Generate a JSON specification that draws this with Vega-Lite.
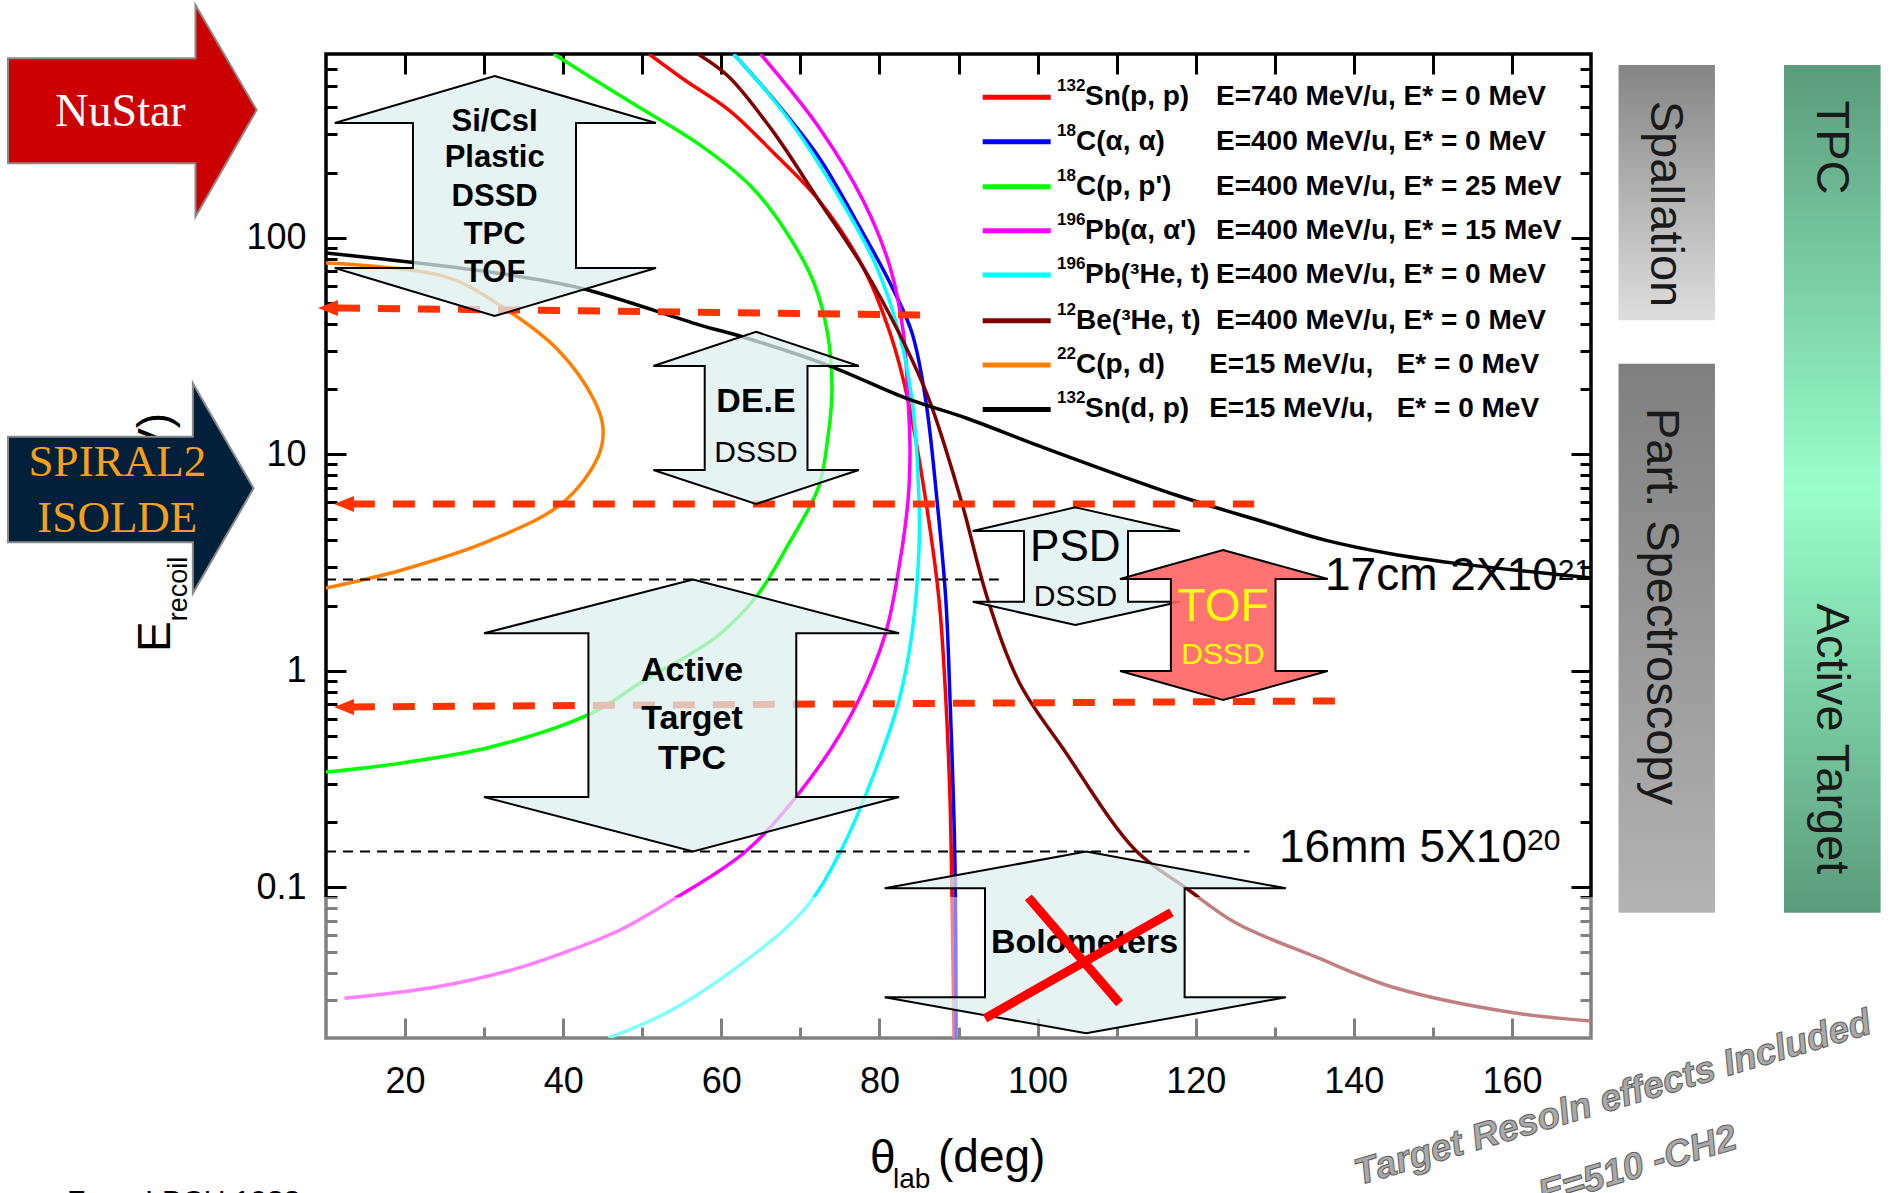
{
  "$schema": "https://vega.github.io/schema/vega-lite/v6.json",
  "width": 1265,
  "height": 984,
  "autosize": {"type": "none"},
  "padding": {"left": 326, "top": 54, "right": 302, "bottom": 155},
  "background": "white",
  "config": {"view": {"stroke": "black", "strokeWidth": 3.5}, "font": "Liberation Sans"},
  "datasets": {
    "curves": [
      {"s":"132Sn(p,p)","i":0,"theta":50.86,"E":706},{"s":"132Sn(p,p)","i":1,"theta":55.36,"E":535.6},{"s":"132Sn(p,p)","i":2,"theta":60.97,"E":389},{"s":"132Sn(p,p)","i":3,"theta":66.67,"E":245.5},{"s":"132Sn(p,p)","i":4,"theta":72.31,"E":149.4},{"s":"132Sn(p,p)","i":5,"theta":77.92,"E":73.2},{"s":"132Sn(p,p)","i":6,"theta":81.34,"E":36.3},{"s":"132Sn(p,p)","i":7,"theta":83.62,"E":17.8},{"s":"132Sn(p,p)","i":8,"theta":85.85,"E":6.14},{"s":"132Sn(p,p)","i":9,"theta":87.54,"E":2.12},{"s":"132Sn(p,p)","i":10,"theta":88.4,"E":0.732},{"s":"132Sn(p,p)","i":11,"theta":88.93,"E":0.253},{"s":"132Sn(p,p)","i":12,"theta":89.18,"E":0.0872},{"s":"132Sn(p,p)","i":13,"theta":89.43,"E":0.0201},
      {"s":"18C(α,α)","i":0,"theta":61.57,"E":706},{"s":"18C(α,α)","i":1,"theta":66.67,"E":433},{"s":"18C(α,α)","i":2,"theta":72.31,"E":236},{"s":"18C(α,α)","i":3,"theta":77.92,"E":105},{"s":"18C(α,α)","i":4,"theta":81.34,"E":61.8},{"s":"18C(α,α)","i":5,"theta":84.12,"E":36.3},{"s":"18C(α,α)","i":6,"theta":85.85,"E":17.8},{"s":"18C(α,α)","i":7,"theta":87.28,"E":6.14},{"s":"18C(α,α)","i":8,"theta":88.4,"E":2.12},{"s":"18C(α,α)","i":9,"theta":88.93,"E":0.732},{"s":"18C(α,α)","i":10,"theta":89.52,"E":0.148},{"s":"18C(α,α)","i":11,"theta":89.7,"E":0.0201},
      {"s":"18C(p,p')","i":0,"theta":38.79,"E":706},{"s":"18C(p,p')","i":1,"theta":48.3,"E":428},{"s":"18C(p,p')","i":2,"theta":57.2,"E":270},{"s":"18C(p,p')","i":3,"theta":63.83,"E":171.6},{"s":"18C(p,p')","i":4,"theta":68.3,"E":105.2},{"s":"18C(p,p')","i":5,"theta":71.72,"E":61.8},{"s":"18C(p,p')","i":6,"theta":73.43,"E":36.3},{"s":"18C(p,p')","i":7,"theta":74.0,"E":19.5},{"s":"18C(p,p')","i":8,"theta":73.43,"E":11.6},{"s":"18C(p,p')","i":9,"theta":72.3,"E":7.05},{"s":"18C(p,p')","i":10,"theta":68.3,"E":3.73},{"s":"18C(p,p')","i":11,"theta":64.39,"E":2.19},{"s":"18C(p,p')","i":12,"theta":59.33,"E":1.43},{"s":"18C(p,p')","i":13,"theta":49.72,"E":0.877},{"s":"18C(p,p')","i":14,"theta":43.9,"E":0.644},{"s":"18C(p,p')","i":15,"theta":30.87,"E":0.444},{"s":"18C(p,p')","i":16,"theta":19.6,"E":0.375},{"s":"18C(p,p')","i":17,"theta":10,"E":0.34},
      {"s":"196Pb(α,α')","i":0,"theta":64.96,"E":706},{"s":"196Pb(α,α')","i":1,"theta":72.31,"E":325},{"s":"196Pb(α,α')","i":2,"theta":77.92,"E":149},{"s":"196Pb(α,α')","i":3,"theta":81.34,"E":73.2},{"s":"196Pb(α,α')","i":4,"theta":83.03,"E":36.3},{"s":"196Pb(α,α')","i":5,"theta":83.62,"E":17.8},{"s":"196Pb(α,α')","i":6,"theta":83.87,"E":10.5},{"s":"196Pb(α,α')","i":7,"theta":83.62,"E":6.14},{"s":"196Pb(α,α')","i":8,"theta":82.48,"E":3.01},{"s":"196Pb(α,α')","i":9,"theta":80.77,"E":1.49},{"s":"196Pb(α,α')","i":10,"theta":77.39,"E":0.732},{"s":"196Pb(α,α')","i":11,"theta":72.31,"E":0.359},{"s":"196Pb(α,α')","i":12,"theta":63.25,"E":0.148},{"s":"196Pb(α,α')","i":13,"theta":54.4,"E":0.09},{"s":"196Pb(α,α')","i":14,"theta":47.19,"E":0.0634},{"s":"196Pb(α,α')","i":15,"theta":39.93,"E":0.0496},{"s":"196Pb(α,α')","i":16,"theta":33.4,"E":0.0414},{"s":"196Pb(α,α')","i":17,"theta":23.9,"E":0.0346},{"s":"196Pb(α,α')","i":18,"theta":12.33,"E":0.0307},
      {"s":"196Pb(3He,t)","i":0,"theta":61.57,"E":706},{"s":"196Pb(3He,t)","i":1,"theta":68.31,"E":361},{"s":"196Pb(3He,t)","i":2,"theta":75.14,"E":149},{"s":"196Pb(3He,t)","i":3,"theta":79.64,"E":73.2},{"s":"196Pb(3He,t)","i":4,"theta":82.48,"E":36.3},{"s":"196Pb(3He,t)","i":5,"theta":84.12,"E":17.8},{"s":"196Pb(3He,t)","i":6,"theta":85.0,"E":6.14},{"s":"196Pb(3He,t)","i":7,"theta":85.0,"E":3.61},{"s":"196Pb(3He,t)","i":8,"theta":84.12,"E":1.49},{"s":"196Pb(3He,t)","i":9,"theta":82.48,"E":0.732},{"s":"196Pb(3He,t)","i":10,"theta":79.64,"E":0.359},{"s":"196Pb(3He,t)","i":11,"theta":75.14,"E":0.148},{"s":"196Pb(3He,t)","i":12,"theta":70.43,"E":0.0784},{"s":"196Pb(3He,t)","i":13,"theta":60.97,"E":0.0401},{"s":"196Pb(3He,t)","i":14,"theta":53.0,"E":0.0262},{"s":"196Pb(3He,t)","i":15,"theta":45.73,"E":0.0201},
      {"s":"12Be(3He,t)","i":0,"theta":57.05,"E":706},{"s":"12Be(3He,t)","i":1,"theta":60.97,"E":553},{"s":"12Be(3He,t)","i":2,"theta":66.67,"E":305},{"s":"12Be(3He,t)","i":3,"theta":72.31,"E":149},{"s":"12Be(3He,t)","i":4,"theta":77.92,"E":73.2},{"s":"12Be(3He,t)","i":5,"theta":82.48,"E":36.3},{"s":"12Be(3He,t)","i":6,"theta":86.3,"E":17.8},{"s":"12Be(3He,t)","i":7,"theta":90.32,"E":6.14},{"s":"12Be(3He,t)","i":8,"theta":93.73,"E":2.12},{"s":"12Be(3He,t)","i":9,"theta":97.72,"E":0.877},{"s":"12Be(3He,t)","i":10,"theta":103.35,"E":0.43},{"s":"12Be(3He,t)","i":11,"theta":112.39,"E":0.148},{"s":"12Be(3He,t)","i":12,"theta":118.78,"E":0.0991},{"s":"12Be(3He,t)","i":13,"theta":125.1,"E":0.0683},{"s":"12Be(3He,t)","i":14,"theta":135.18,"E":0.0476},{"s":"12Be(3He,t)","i":15,"theta":145.3,"E":0.0342},{"s":"12Be(3He,t)","i":16,"theta":160.43,"E":0.0262},{"s":"12Be(3He,t)","i":17,"theta":170,"E":0.0241},
      {"s":"22C(p,d)","i":0,"theta":10,"E":76.4},{"s":"22C(p,d)","i":1,"theta":25.18,"E":65.9},{"s":"22C(p,d)","i":2,"theta":32.5,"E":47.4},{"s":"22C(p,d)","i":3,"theta":39.35,"E":30.3},{"s":"22C(p,d)","i":4,"theta":43.9,"E":17.8},{"s":"22C(p,d)","i":5,"theta":45.04,"E":13.2},{"s":"22C(p,d)","i":6,"theta":44.4,"E":9.7},{"s":"22C(p,d)","i":7,"theta":39.9,"E":5.95},{"s":"22C(p,d)","i":8,"theta":30.87,"E":4.01},{"s":"22C(p,d)","i":9,"theta":19.6,"E":2.92},{"s":"22C(p,d)","i":10,"theta":10,"E":2.41},
      {"s":"132Sn(d,p)","i":0,"theta":10,"E":85.0},{"s":"132Sn(d,p)","i":1,"theta":30.87,"E":69.3},{"s":"132Sn(d,p)","i":2,"theta":42.13,"E":58.6},{"s":"132Sn(d,p)","i":3,"theta":57.3,"E":39.5},{"s":"132Sn(d,p)","i":4,"theta":62.74,"E":34.8},{"s":"132Sn(d,p)","i":5,"theta":73.43,"E":25.8},{"s":"132Sn(d,p)","i":6,"theta":83.6,"E":18.0},{"s":"132Sn(d,p)","i":7,"theta":90.95,"E":14.7},{"s":"132Sn(d,p)","i":8,"theta":100.56,"E":10.8},{"s":"132Sn(d,p)","i":9,"theta":117.5,"E":6.48},{"s":"132Sn(d,p)","i":10,"theta":128.77,"E":4.85},{"s":"132Sn(d,p)","i":11,"theta":136.5,"E":4.0},{"s":"132Sn(d,p)","i":12,"theta":145.0,"E":3.45},{"s":"132Sn(d,p)","i":13,"theta":152.7,"E":3.14},{"s":"132Sn(d,p)","i":14,"theta":170,"E":2.68}
    ],
    "arrows": [
      {"id":"si","k":0,"theta":31.33,"E":558.8},{"id":"si","k":1,"theta":51.74,"E":338.8},{"id":"si","k":2,"theta":41.62,"E":338.8},{"id":"si","k":3,"theta":41.62,"E":72.5},{"id":"si","k":4,"theta":51.74,"E":72.5},{"id":"si","k":5,"theta":31.33,"E":43.5},{"id":"si","k":6,"theta":11.11,"E":72.5},{"id":"si","k":7,"theta":21.0,"E":72.5},{"id":"si","k":8,"theta":21.0,"E":338.8},{"id":"si","k":9,"theta":11.11,"E":338.8},
      {"id":"dee","k":0,"theta":64.39,"E":36.8},{"id":"dee","k":1,"theta":77.39,"E":25.56},{"id":"dee","k":2,"theta":70.9,"E":25.56},{"id":"dee","k":3,"theta":70.9,"E":8.46},{"id":"dee","k":4,"theta":77.39,"E":8.46},{"id":"dee","k":5,"theta":64.39,"E":5.89},{"id":"dee","k":6,"theta":51.41,"E":8.46},{"id":"dee","k":7,"theta":57.9,"E":8.46},{"id":"dee","k":8,"theta":57.9,"E":25.56},{"id":"dee","k":9,"theta":51.41,"E":25.56},
      {"id":"at","k":0,"theta":56.42,"E":2.64},{"id":"at","k":1,"theta":82.48,"E":1.488},{"id":"at","k":2,"theta":69.48,"E":1.488},{"id":"at","k":3,"theta":69.48,"E":0.261},{"id":"at","k":4,"theta":82.48,"E":0.261},{"id":"at","k":5,"theta":56.42,"E":0.146},{"id":"at","k":6,"theta":29.98,"E":0.261},{"id":"at","k":7,"theta":43.19,"E":0.261},{"id":"at","k":8,"theta":43.19,"E":1.488},{"id":"at","k":9,"theta":29.98,"E":1.488},
      {"id":"psd","k":0,"theta":104.78,"E":5.68},{"id":"psd","k":1,"theta":118.02,"E":4.42},{"id":"psd","k":2,"theta":111.44,"E":4.42},{"id":"psd","k":3,"theta":111.44,"E":2.08},{"id":"psd","k":4,"theta":118.02,"E":2.08},{"id":"psd","k":5,"theta":104.78,"E":1.625},{"id":"psd","k":6,"theta":91.79,"E":2.08},{"id":"psd","k":7,"theta":98.29,"E":2.08},{"id":"psd","k":8,"theta":98.29,"E":4.42},{"id":"psd","k":9,"theta":91.79,"E":4.42},
      {"id":"tof","k":0,"theta":123.46,"E":3.61},{"id":"tof","k":1,"theta":136.7,"E":2.65},{"id":"tof","k":2,"theta":130.1,"E":2.65},{"id":"tof","k":3,"theta":130.1,"E":0.997},{"id":"tof","k":4,"theta":136.7,"E":0.997},{"id":"tof","k":5,"theta":123.46,"E":0.732},{"id":"tof","k":6,"theta":110.43,"E":0.997},{"id":"tof","k":7,"theta":116.86,"E":0.997},{"id":"tof","k":8,"theta":116.86,"E":2.65},{"id":"tof","k":9,"theta":110.43,"E":2.65},
      {"id":"bolo","k":0,"theta":106.15,"E":0.146},{"id":"bolo","k":1,"theta":131.4,"E":0.0988},{"id":"bolo","k":2,"theta":118.6,"E":0.0988},{"id":"bolo","k":3,"theta":118.6,"E":0.03098},{"id":"bolo","k":4,"theta":131.4,"E":0.03098},{"id":"bolo","k":5,"theta":106.15,"E":0.02113},{"id":"bolo","k":6,"theta":80.66,"E":0.03098},{"id":"bolo","k":7,"theta":93.35,"E":0.03098},{"id":"bolo","k":8,"theta":93.35,"E":0.0988},{"id":"bolo","k":9,"theta":80.66,"E":0.0988},
      {"id":"nustar","k":0,"theta":-30.22,"E":674.5},{"id":"nustar","k":1,"theta":-6.51,"E":674.5},{"id":"nustar","k":2,"theta":-6.51,"E":1189},{"id":"nustar","k":3,"theta":1.23,"E":389},{"id":"nustar","k":4,"theta":-6.51,"E":125.1},{"id":"nustar","k":5,"theta":-6.51,"E":220.8},{"id":"nustar","k":6,"theta":-30.22,"E":220.8},
      {"id":"spiral","k":0,"theta":-30.22,"E":12.04},{"id":"spiral","k":1,"theta":-6.84,"E":12.04},{"id":"spiral","k":2,"theta":-6.84,"E":21.27},{"id":"spiral","k":3,"theta":0.84,"E":6.96},{"id":"spiral","k":4,"theta":-6.84,"E":2.278},{"id":"spiral","k":5,"theta":-6.84,"E":3.92},{"id":"spiral","k":6,"theta":-30.22,"E":3.92}
    ],
    "keyrows": [
      {"s":"132Sn(p,p)","sup":"132","name":"Sn(p, p)","cond":"E=740 MeV/u, E* = 0 MeV","E":445.6,"xl":93.06,"xl2":101.66,"xs":102.46,"xn":106.0,"xc":122.57},
      {"s":"18C(α,α)","sup":"18","name":"C(α, α)","cond":"E=400 MeV/u, E* = 0 MeV","E":277.8,"xl":93.06,"xl2":101.66,"xs":102.46,"xn":104.87,"xc":122.57},
      {"s":"18C(p,p')","sup":"18","name":"C(p, p')","cond":"E=400 MeV/u, E* = 25 MeV","E":172.1,"xl":93.06,"xl2":101.66,"xs":102.46,"xn":104.87,"xc":122.57},
      {"s":"196Pb(α,α')","sup":"196","name":"Pb(α, α')","cond":"E=400 MeV/u, E* = 15 MeV","E":107.8,"xl":93.06,"xl2":101.66,"xs":102.46,"xn":106.0,"xc":122.57},
      {"s":"196Pb(3He,t)","sup":"196","name":"Pb(³He, t)","cond":"E=400 MeV/u, E* = 0 MeV","E":67.3,"xl":93.06,"xl2":101.66,"xs":102.46,"xn":106.0,"xc":122.57},
      {"s":"12Be(3He,t)","sup":"12","name":"Be(³He, t)","cond":"E=400 MeV/u, E* = 0 MeV","E":41.4,"xl":93.06,"xl2":101.66,"xs":102.46,"xn":104.87,"xc":122.57},
      {"s":"22C(p,d)","sup":"22","name":"C(p, d)","cond":"E=15 MeV/u,\u00a0\u00a0 E* = 0 MeV","E":25.8,"xl":93.06,"xl2":101.66,"xs":102.46,"xn":104.87,"xc":121.7},
      {"s":"132Sn(d,p)","sup":"132","name":"Sn(d, p)","cond":"E=15 MeV/u,\u00a0\u00a0 E* = 0 MeV","E":16.1,"xl":93.06,"xl2":101.66,"xs":102.46,"xn":106.0,"xc":121.7}
    ]
  },
  "encoding": {
    "x": {"field": "theta", "type": "quantitative", "scale": {"domain": [10, 170]}, "axis": null},
    "y": {"field": "E", "type": "quantitative", "scale": {"type": "log", "domain": [0.0201, 706]}, "axis": null}
  },
  "resolve": {"axis": {"x": "independent", "y": "independent"}},
  "layer": [
    {"data": {"values": [{"theta": 173.48, "theta2": 185.68, "E": 628, "E2": 41.55}]},
     "mark": {"type": "rect", "fill": {"gradient": "linear", "x1": 0, "y1": 0, "x2": 0, "y2": 1, "stops": [{"offset": 0, "color": "#858585"}, {"offset": 1, "color": "#dedede"}]}},
     "encoding": {"x2": {"field": "theta2"}, "y2": {"field": "E2"}}},
    {"data": {"values": [{"theta": 173.48, "theta2": 185.68, "E": 26.16, "E2": 0.0762}]},
     "mark": {"type": "rect", "fill": {"gradient": "linear", "x1": 0, "y1": 0, "x2": 0, "y2": 1, "stops": [{"offset": 0, "color": "#7f7f7f"}, {"offset": 1, "color": "#b3b3b3"}]}},
     "encoding": {"x2": {"field": "theta2"}, "y2": {"field": "E2"}}},
    {"data": {"values": [{"theta": 194.41, "theta2": 206.63, "E": 628, "E2": 0.0762}]},
     "mark": {"type": "rect", "fill": {"gradient": "linear", "x1": 0, "y1": 0, "x2": 0, "y2": 1, "stops": [{"offset": 0, "color": "#5b9b7b"}, {"offset": 0.5, "color": "#99ffcc"}, {"offset": 1, "color": "#5b9b7b"}]}},
     "encoding": {"x2": {"field": "theta2"}, "y2": {"field": "E2"}}},
    {"data": {"values": [{"t": "Spallation", "theta": 179.36, "E": 143.2}, {"t": "Part. Spectroscopy", "theta": 178.9, "E": 1.98}, {"t": "TPC", "theta": 200.3, "E": 261.1}, {"t": "Active Target", "theta": 200.3, "E": 0.4835}]},
     "mark": {"type": "text", "angle": 90, "align": "center", "baseline": "middle", "fontSize": 47, "font": "Liberation Sans", "fill": "#1a1a1a"},
     "encoding": {"text": {"field": "t"}}},
    {"data": {"name": "curves"},
     "mark": {"type": "line", "strokeWidth": 3.5, "interpolate": "catmull-rom", "clip": true},
     "encoding": {
       "x": {"field": "theta", "type": "quantitative", "scale": {"domain": [10, 170]},
             "axis": {"orient": "bottom", "values": [20,30,40,50,60,70,80,90,100,110,120,130,140,150,160], "domain": false, "grid": false, "title": null, "tickColor": "black", "tickWidth": 3,
                      "tickSize": {"condition": {"test": "datum.value % 20 == 0", "value": -20}, "value": -11},
                      "labelExpr": "datum.value % 20 == 0 ? datum.label : ''", "labelFont": "Liberation Sans", "labelFontSize": 36, "labelColor": "black", "labelPadding": 46, "labelFlush": false, "labelOverlap": false}},
       "y": {"field": "E", "type": "quantitative", "scale": {"type": "log", "domain": [0.0201, 706]},
             "axis": {"orient": "left", "values": [0.03,0.04,0.05,0.06,0.07,0.08,0.09,0.1,0.2,0.3,0.4,0.5,0.6,0.7,0.8,0.9,1,2,3,4,5,6,7,8,9,10,20,30,40,50,60,70,80,90,100,200,300,400,500,600], "domain": false, "grid": false, "title": null, "tickColor": "black", "tickWidth": 3,
                      "tickSize": {"condition": {"test": "datum.value==0.1||datum.value==1||datum.value==10||datum.value==100", "value": -20}, "value": -11},
                      "labelExpr": "datum.value==0.1?'0.1':datum.value==1?'1':datum.value==10?'10':datum.value==100?'100':''", "labelFont": "Liberation Sans", "labelFontSize": 36, "labelColor": "black", "labelPadding": 40, "labelOverlap": false}},
       "color": {"field": "s", "type": "nominal", "legend": null,
                 "scale": {"domain": ["132Sn(p,p)","18C(α,α)","18C(p,p')","196Pb(α,α')","196Pb(3He,t)","12Be(3He,t)","22C(p,d)","132Sn(d,p)"],
                           "range": ["#ff0000","#0000ff","#00ff00","#ff00ff","#00ffff","#800000","#ff8000","#000000"]}},
       "detail": {"field": "s"},
       "order": {"field": "i", "type": "quantitative"}
     }},
    {"data": {"values": [{"theta": 10, "theta2": 95.1, "E": 2.64}, {"theta": 10, "theta2": 126.8, "E": 0.146}]},
     "mark": {"type": "rule", "stroke": "black", "strokeWidth": 2, "strokeDash": [10, 7]},
     "encoding": {"x2": {"field": "theta2"}}},
    {"data": {"values": [{"theta": 11.52, "theta2": 85.26, "E": 47.4, "E2": 44.0}, {"theta": 13.4, "theta2": 127.4, "E": 5.89, "E2": 5.89}, {"theta": 13.4, "theta2": 138, "E": 0.68, "E2": 0.725}]},
     "mark": {"type": "rule", "stroke": "#ff3300", "strokeWidth": 7, "strokeDash": [22, 18], "strokeCap": "butt"},
     "encoding": {"x2": {"field": "theta2"}, "y2": {"field": "E2"}}},
    {"data": {"values": [{"theta": 10.25, "E": 47.4}, {"theta": 12.28, "E": 5.89}, {"theta": 12.28, "E": 0.68}]},
     "mark": {"type": "point", "shape": "M-1,0L1,-0.8L1,0.8Z", "size": 400, "filled": true, "fill": "#ff3300", "opacity": 1, "strokeWidth": 0}},
    {"data": {"name": "arrows"}, "transform": [{"filter": "datum.id=='si'||datum.id=='dee'||datum.id=='at'||datum.id=='psd'"}],
     "mark": {"type": "line", "interpolate": "linear-closed", "fill": "#dcefef", "fillOpacity": 0.75, "stroke": "black", "strokeWidth": 2, "strokeJoin": "miter"},
     "encoding": {"detail": {"field": "id"}, "order": {"field": "k", "type": "quantitative"}}},
    {"data": {"name": "arrows"}, "transform": [{"filter": "datum.id=='tof'"}],
     "mark": {"type": "line", "interpolate": "linear-closed", "fill": "#ff6464", "fillOpacity": 0.9, "stroke": "black", "strokeWidth": 2, "strokeJoin": "miter"},
     "encoding": {"detail": {"field": "id"}, "order": {"field": "k", "type": "quantitative"}}},
    {"data": {"values": [{"theta": 9.6, "theta2": 170.4, "E": 0.0194, "E2": 0.09}]},
     "mark": {"type": "rect", "fill": "white", "fillOpacity": 0.5},
     "encoding": {
       "x": {"field": "theta", "type": "quantitative", "scale": {"domain": [10, 170]},
             "axis": {"orient": "top", "values": [20,30,40,50,60,70,80,90,100,110,120,130,140,150,160], "domain": false, "grid": false, "title": null, "labels": false, "tickColor": "black", "tickWidth": 3, "tickSize": -20}},
       "y": {"field": "E", "type": "quantitative", "scale": {"type": "log", "domain": [0.0201, 706]},
             "axis": {"orient": "right", "values": [0.03,0.04,0.05,0.06,0.07,0.08,0.09,0.1,0.2,0.3,0.4,0.5,0.6,0.7,0.8,0.9,1,2,3,4,5,6,7,8,9,10,20,30,40,50,60,70,80,90,100,200,300,400,500,600], "domain": false, "grid": false, "title": null, "labels": false, "tickColor": "black", "tickWidth": 3,
                      "tickSize": {"condition": {"test": "datum.value==0.1||datum.value==1||datum.value==10||datum.value==100", "value": -20}, "value": -11}}},
       "x2": {"field": "theta2"}, "y2": {"field": "E2"}}},
    {"data": {"name": "arrows"}, "transform": [{"filter": "datum.id=='bolo'"}],
     "mark": {"type": "line", "interpolate": "linear-closed", "fill": "#dcefef", "fillOpacity": 0.75, "stroke": "black", "strokeWidth": 2, "strokeJoin": "miter"},
     "encoding": {"detail": {"field": "id"}, "order": {"field": "k", "type": "quantitative"}}},
    {"data": {"values": [{"t": "E", "theta": -9.78, "E": 1.22}, {"t": "(MeV)", "theta": -9.78, "E": 4.1}]},
     "mark": {"type": "text", "angle": 270, "align": "left", "baseline": "alphabetic", "fontSize": 46, "font": "Liberation Sans", "fill": "black"},
     "encoding": {"text": {"field": "t"}}},
    {"data": {"values": [{"t": "recoil", "theta": -7.52, "E": 1.691}]},
     "mark": {"type": "text", "angle": 270, "align": "left", "baseline": "alphabetic", "fontSize": 27, "font": "Liberation Sans", "fill": "black"},
     "encoding": {"text": {"field": "t"}}},
    {"data": {"name": "arrows"}, "transform": [{"filter": "datum.id=='spiral'"}],
     "mark": {"type": "line", "interpolate": "linear-closed", "fill": "#03203a", "fillOpacity": 1, "stroke": "#8a8a8a", "strokeWidth": 2, "strokeJoin": "miter"},
     "encoding": {"detail": {"field": "id"}, "order": {"field": "k", "type": "quantitative"}}},
    {"data": {"name": "arrows"}, "transform": [{"filter": "datum.id=='nustar'"}],
     "mark": {"type": "line", "interpolate": "linear-closed", "fill": "#cc0000", "fillOpacity": 1, "stroke": "#8a8a8a", "strokeWidth": 2, "strokeJoin": "miter"},
     "encoding": {"detail": {"field": "id"}, "order": {"field": "k", "type": "quantitative"}}},
    {"data": {"values": [{"t": "NuStar", "theta": -15.99, "E": 382.1}]},
     "mark": {"type": "text", "align": "center", "baseline": "middle", "fontSize": 46, "font": "Liberation Serif", "fill": "white"},
     "encoding": {"text": {"field": "t"}}},
    {"data": {"values": [{"t": "SPIRAL2", "theta": -16.39, "E": 9.234}, {"t": "ISOLDE", "theta": -16.39, "E": 5.057}]},
     "mark": {"type": "text", "align": "center", "baseline": "middle", "fontSize": 45, "font": "Liberation Serif", "fill": "#f5a01a"},
     "encoding": {"text": {"field": "t"}}},
    {"data": {"values": [{"t": "Si/CsI", "theta": 31.33, "E": 343.6}, {"t": "Plastic", "theta": 31.33, "E": 232.8}, {"t": "DSSD", "theta": 31.33, "E": 154.7}, {"t": "TPC", "theta": 31.33, "E": 103.0}, {"t": "TOF", "theta": 31.33, "E": 68.7}]},
     "mark": {"type": "text", "align": "center", "baseline": "middle", "fontSize": 31, "fontWeight": "bold", "font": "Liberation Sans", "fill": "black"},
     "encoding": {"text": {"field": "t"}}},
    {"data": {"values": [{"t": "DE.E", "theta": 64.39, "E": 17.48}, {"t": "Active", "theta": 56.3, "E": 0.9966}, {"t": "Target", "theta": 56.3, "E": 0.6}, {"t": "TPC", "theta": 56.3, "E": 0.39}, {"t": "Bolometers", "theta": 105.94, "E": 0.05501}]},
     "mark": {"type": "text", "align": "center", "baseline": "middle", "fontSize": 34, "fontWeight": "bold", "font": "Liberation Sans", "fill": "black"},
     "encoding": {"text": {"field": "t"}}},
    {"data": {"values": [{"t": "DSSD", "theta": 64.39, "E": 10.13}, {"t": "DSSD", "theta": 104.8, "E": 2.197}]},
     "mark": {"type": "text", "align": "center", "baseline": "middle", "fontSize": 30, "font": "Liberation Sans", "fill": "black"},
     "encoding": {"text": {"field": "t"}}},
    {"data": {"values": [{"t": "PSD", "theta": 104.78, "E": 3.69}]},
     "mark": {"type": "text", "align": "center", "baseline": "middle", "fontSize": 44, "font": "Liberation Sans", "fill": "black"},
     "encoding": {"text": {"field": "t"}}},
    {"data": {"values": [{"t": "TOF", "theta": 123.46, "E": 1.976}]},
     "mark": {"type": "text", "align": "center", "baseline": "middle", "fontSize": 46, "font": "Liberation Sans", "fill": "#ffff00"},
     "encoding": {"text": {"field": "t"}}},
    {"data": {"values": [{"t": "DSSD", "theta": 123.46, "E": 1.181}]},
     "mark": {"type": "text", "align": "center", "baseline": "middle", "fontSize": 30, "font": "Liberation Sans", "fill": "#ffff00"},
     "encoding": {"text": {"field": "t"}}},
    {"data": {"values": [{"t": "17cm 2X10", "theta": 136.36, "E": 2.359}, {"t": "16mm 5X10", "theta": 130.54, "E": 0.1311}]},
     "mark": {"type": "text", "align": "left", "baseline": "alphabetic", "fontSize": 46, "font": "Liberation Sans", "fill": "black", "clip": true},
     "encoding": {"text": {"field": "t"}}},
    {"data": {"values": [{"t": "21", "theta": 165.8, "E": 2.624}, {"t": "20", "theta": 161.9, "E": 0.1485}]},
     "mark": {"type": "text", "align": "left", "baseline": "alphabetic", "fontSize": 30, "font": "Liberation Sans", "fill": "black", "clip": true},
     "encoding": {"text": {"field": "t"}}},
    {"data": {"values": [{"theta": 98.83, "E": 0.0897, "theta2": 110.37, "E2": 0.02907}, {"theta": 116.93, "E": 0.0765, "theta2": 93.35, "E2": 0.02478}]},
     "mark": {"type": "rule", "stroke": "#ff0000", "strokeWidth": 9, "strokeCap": "butt"},
     "encoding": {"x2": {"field": "theta2"}, "y2": {"field": "E2"}}},
    {"data": {"name": "keyrows"},
     "mark": {"type": "rule", "strokeWidth": 5},
     "encoding": {"x": {"field": "xl", "type": "quantitative", "axis": null}, "x2": {"field": "xl2"},
                  "color": {"field": "s", "type": "nominal", "legend": null,
                            "scale": {"domain": ["132Sn(p,p)","18C(α,α)","18C(p,p')","196Pb(α,α')","196Pb(3He,t)","12Be(3He,t)","22C(p,d)","132Sn(d,p)"],
                                      "range": ["#ff0000","#0000ff","#00ff00","#ff00ff","#00ffff","#800000","#ff8000","#000000"]}}}},
    {"data": {"name": "keyrows"},
     "mark": {"type": "text", "align": "left", "baseline": "middle", "dy": -11, "fontSize": 17, "fontWeight": "bold", "font": "Liberation Sans", "fill": "black"},
     "encoding": {"x": {"field": "xs", "type": "quantitative", "axis": null}, "text": {"field": "sup"}}},
    {"data": {"name": "keyrows"},
     "mark": {"type": "text", "align": "left", "baseline": "middle", "fontSize": 28, "fontWeight": "bold", "font": "Liberation Sans", "fill": "black"},
     "encoding": {"x": {"field": "xn", "type": "quantitative", "axis": null}, "text": {"field": "name"}}},
    {"data": {"name": "keyrows"},
     "mark": {"type": "text", "align": "left", "baseline": "middle", "fontSize": 28, "fontWeight": "bold", "font": "Liberation Sans", "fill": "black"},
     "encoding": {"x": {"field": "xc", "type": "quantitative", "axis": null}, "text": {"field": "cond"}}},
    {"data": {"values": [{"t": "θ", "theta": 78.81, "E": 0.004781}, {"t": "(deg)", "theta": 87.41, "E": 0.004833}]},
     "mark": {"type": "text", "align": "left", "baseline": "alphabetic", "fontSize": 46, "font": "Liberation Sans", "fill": "black"},
     "encoding": {"text": {"field": "t"}}},
    {"data": {"values": [{"t": "lab", "theta": 81.72, "E": 0.004076}]},
     "mark": {"type": "text", "align": "left", "baseline": "alphabetic", "fontSize": 28, "font": "Liberation Sans", "fill": "black"},
     "encoding": {"text": {"field": "t"}}},
    {"data": {"values": [{"t": "Target Resoln effects Included", "theta": 173.17, "E": 0.009443}, {"t": "E=510 -CH2", "theta": 176.3, "E": 0.004584}]},
     "mark": {"type": "text", "align": "center", "baseline": "alphabetic", "angle": -16.5, "fontSize": 37, "fontWeight": "bold", "fontStyle": "italic", "font": "Liberation Sans", "fill": "#a9a9a9", "stroke": "#606060", "strokeWidth": 1},
     "encoding": {"text": {"field": "t"}}},
    {"data": {"values": [{"t": "From  LBCU 1988", "theta": -22.76, "E": 0.003175}]},
     "mark": {"type": "text", "align": "left", "baseline": "alphabetic", "fontSize": 30, "font": "Liberation Sans", "fill": "black"},
     "encoding": {"text": {"field": "t"}}}
  ]
}
